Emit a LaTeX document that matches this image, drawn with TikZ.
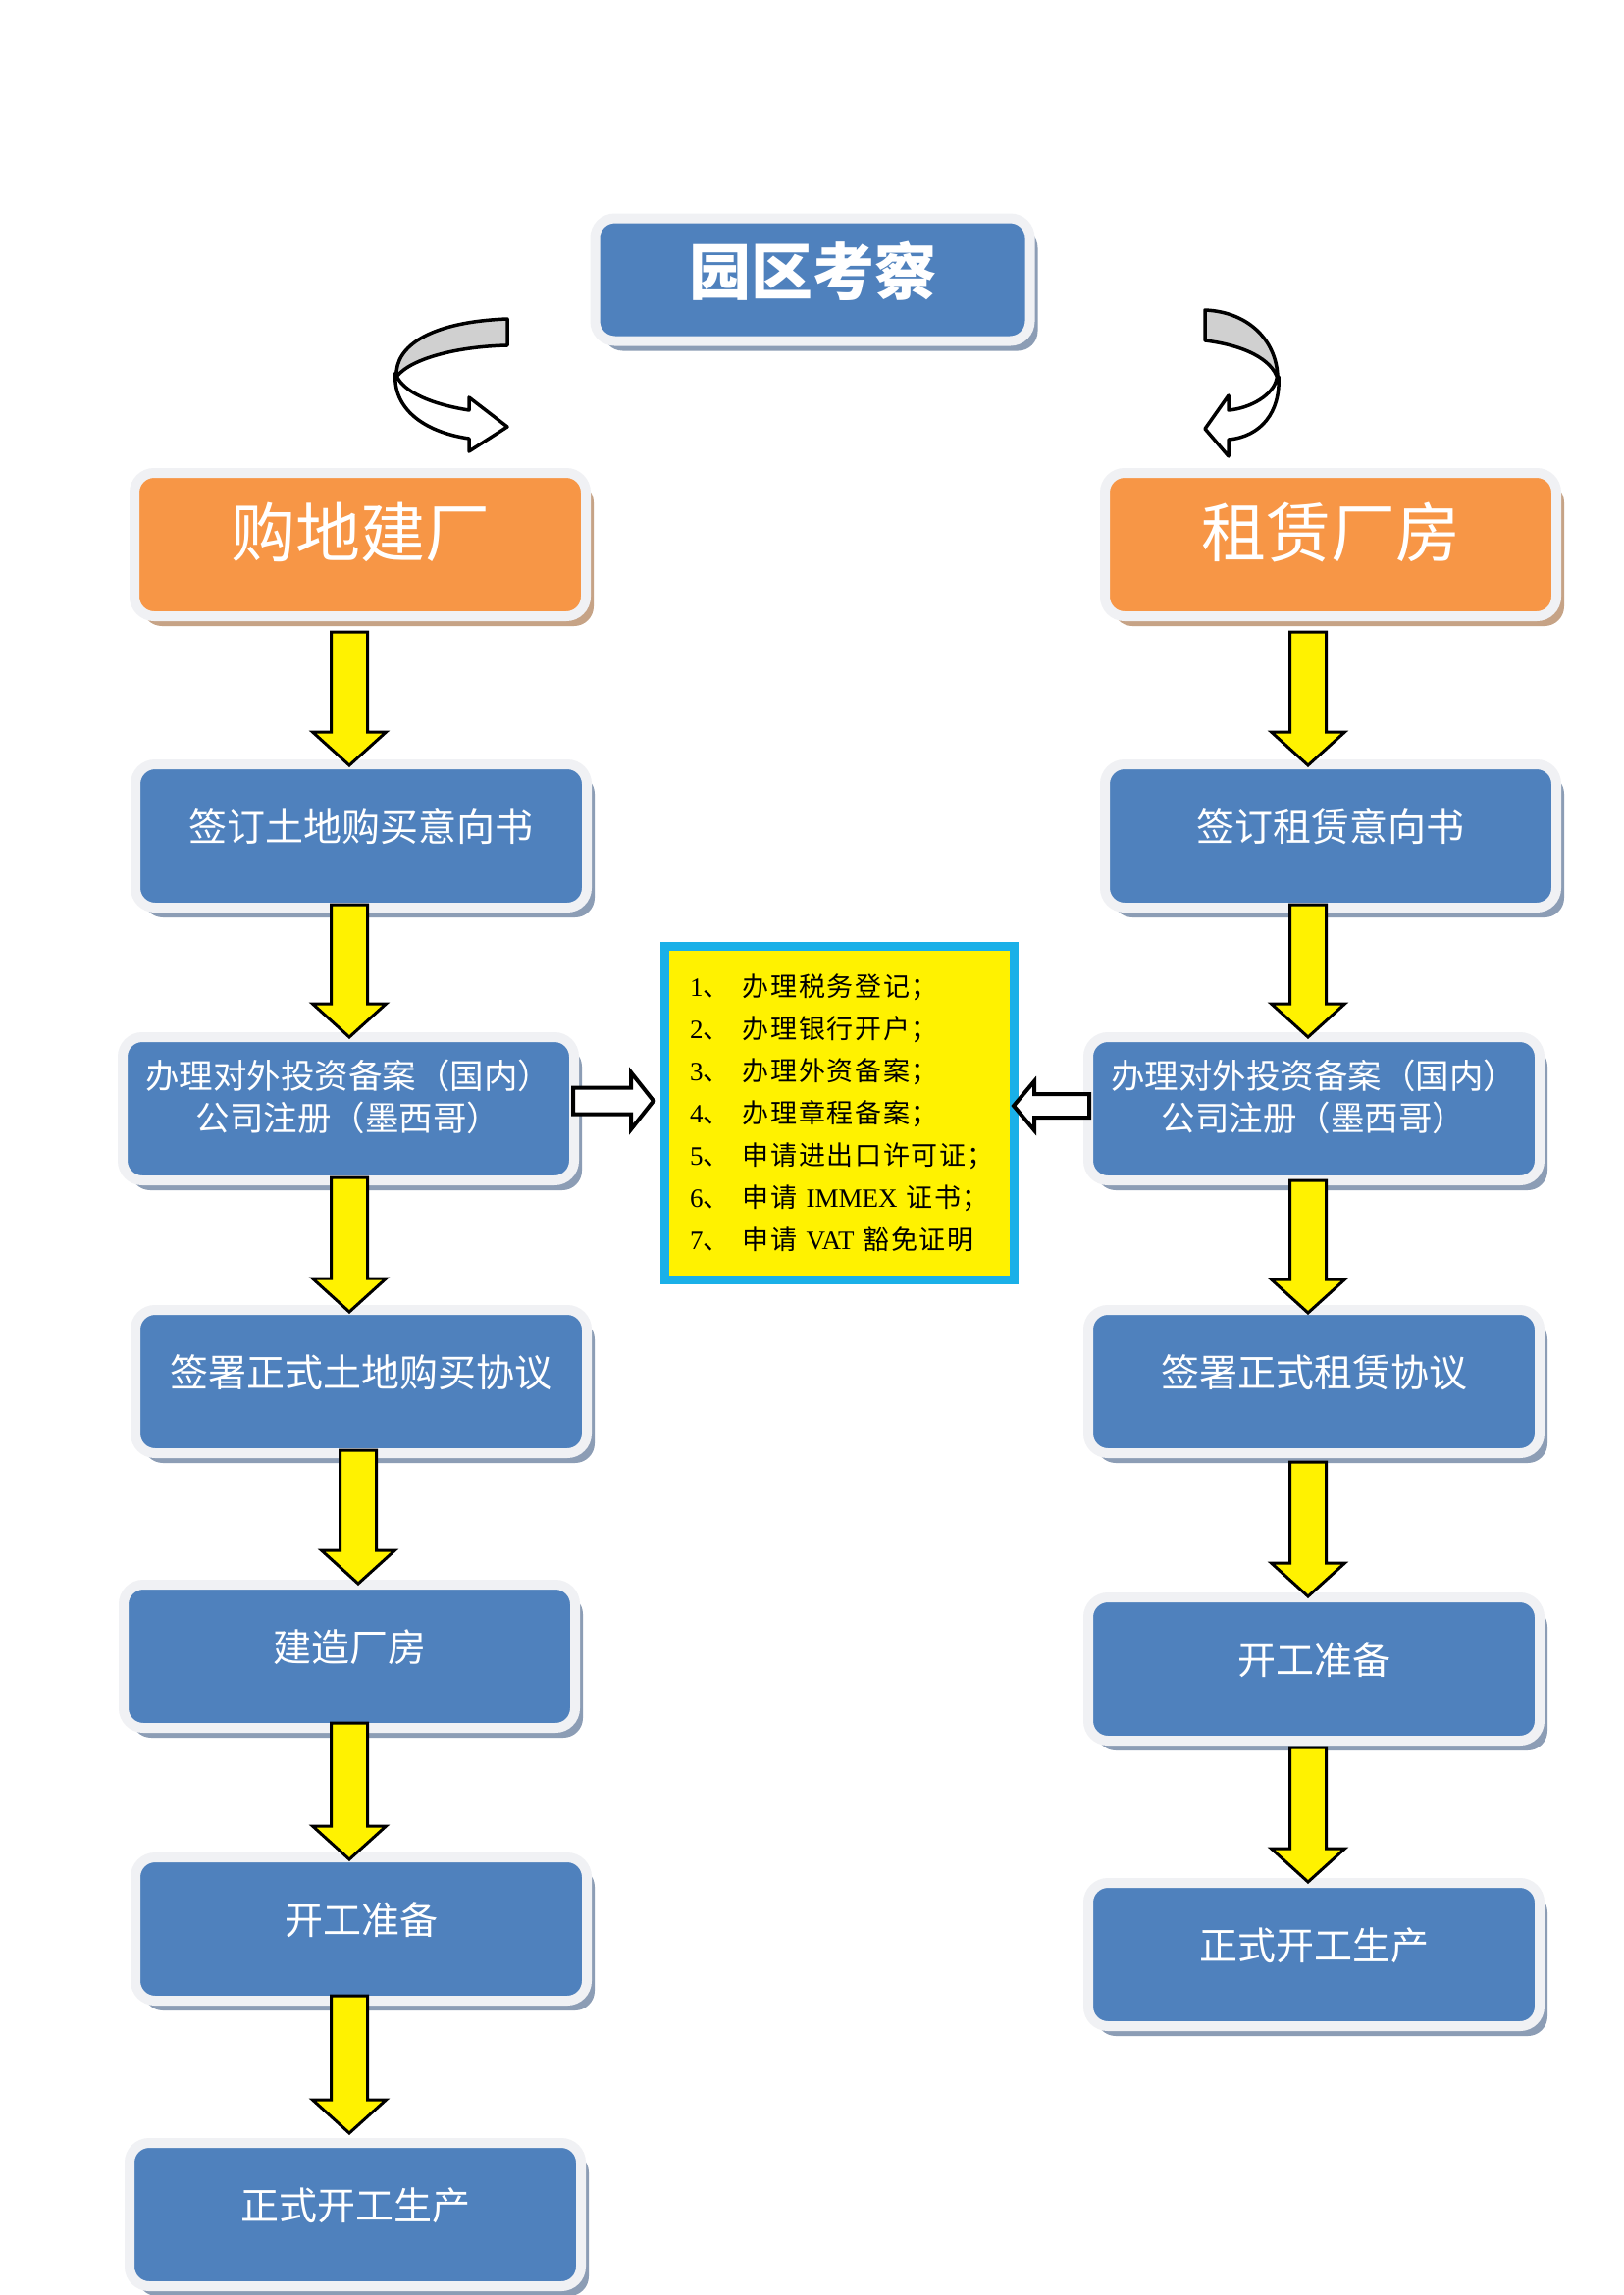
\documentclass[tikz,border=0pt]{standalone}
\usepackage{fontspec}
\setmainfont{Liberation Serif}
\newfontfamily\cjk{Noto Sans CJK SC}
\newfontfamily\cjkls[LetterSpace=6]{Noto Sans CJK SC}
\newfontfamily\lser{Liberation Serif}
\usetikzlibrary{shadows,calc}
\definecolor{boxblue}{HTML}{4F81BD}
\definecolor{boxorange}{HTML}{F79646}
\definecolor{rimcol}{HTML}{F0F1F4}
\definecolor{shblue}{HTML}{8C9DB5}
\definecolor{shorange}{HTML}{C6A386}
\definecolor{cyanrim}{HTML}{1AB0E8}
\definecolor{curvegray}{HTML}{D0D0D0}
\tikzset{
  pbox/.style={rectangle, rounded corners=20pt, draw=rimcol, line width=10pt,
    outer sep=0pt, inner sep=0pt, minimum width=460pt, minimum height=146pt,
    text=white, align=center},
  bluebox/.style={pbox, fill=boxblue,
    drop shadow={opacity=1, fill=shblue, shadow xshift=8pt, shadow yshift=-10pt},
    font=\cjk\fontsize{39}{46}\selectfont, text depth=22pt},
  twobox/.style={bluebox, font=\cjk\fontsize{34.5}{43}\selectfont, text depth=28pt},
  orangebox/.style={pbox, fill=boxorange,
    drop shadow={opacity=1, fill=shorange, shadow xshift=8pt, shadow yshift=-10pt},
    font=\cjk\fontsize{66}{74}\selectfont, text depth=30pt},
  titlebox/.style={pbox, fill=boxblue, minimum width=443pt, minimum height=125pt,
    drop shadow={opacity=1, fill=shblue, shadow xshift=8pt, shadow yshift=-10pt},
    font=\cjk\bfseries\fontsize{63}{70}\selectfont, text depth=24pt},
  notebox/.style={rectangle, draw=cyanrim, fill=yellow, line width=9pt, outer sep=0pt,
    inner sep=0pt, minimum width=356pt, minimum height=340pt, text width=305pt,
    align=left, font=\cjkls\fontsize{27}{43}\selectfont},
  yarrow/.style={draw=black, fill=yellow, line width=3pt, line join=miter},
  harrow/.style={draw=black, fill=white, line width=4pt, line join=miter},
  curvearrow/.style={draw=black, line width=3.5pt, line join=round}
}
\newcommand\yarr[5]{\path[yarrow] let \p1=(#2.south), \p2=(#3.north) in
  ({#1pt-18.5pt},{\y1-(#4pt)}) -- ({#1pt+18.5pt},{\y1-(#4pt)})
  -- ({#1pt+18.5pt},{\y2+34pt-(#5pt)}) -- ({#1pt+37.5pt},{\y2+34pt-(#5pt)})
  -- ({#1pt},{\y2-(#5pt)}) -- ({#1pt-37.5pt},{\y2+34pt-(#5pt)})
  -- ({#1pt-18.5pt},{\y2+34pt-(#5pt)}) -- cycle;}
\newcommand\nm[1]{\makebox[54pt][l]{{\lser\fontsize{27}{43}\selectfont #1}、}}
\begin{document}
\begin{tikzpicture}[x=1pt,y=-1pt]
\useasboundingbox (0,0) rectangle (1654,2339);
\fill[white] (0,0) rectangle (1654,2339);

% title
\node[titlebox] (top) at (828,285) {园区考察};

% orange heads
\node[orangebox] (oL) at (367,555) {购地建厂};
\node[orangebox] (oR) at (1356,555) {租赁厂房};

% left column
\node[bluebox] (b1L) at (368,852) {签订土地购买意向书};
\node[twobox]  (b2L) at (355,1130) {办理对外投资备案（国内）\\公司注册（墨西哥）};
\node[bluebox] (b3L) at (368,1408) {签署正式土地购买协议};
\node[bluebox] (b4L) at (356,1688) {建造厂房};
\node[bluebox] (b5L) at (368,1966) {开工准备};
\node[bluebox] (b6L) at (362,2257) {正式开工生产};

% right column
\node[bluebox] (b1R) at (1356,852) {签订租赁意向书};
\node[twobox]  (b2R) at (1339,1130) {办理对外投资备案（国内）\\公司注册（墨西哥）};
\node[bluebox] (b3R) at (1339,1408) {签署正式租赁协议};
\node[bluebox] (b4R) at (1339,1701) {开工准备};
\node[bluebox] (b5R) at (1339,1992) {正式开工生产};

% note box
\node[notebox] (yb) at (855.5,1134.5) {%
\nm{1}办理税务登记；\\
\nm{2}办理银行开户；\\
\nm{3}办理外资备案；\\
\nm{4}办理章程备案；\\
\nm{5}申请进出口许可证；\\
\nm{6}申请 {\lser IMMEX} 证书；\\
\nm{7}申请 {\lser VAT} 豁免证明};

% yellow down arrows
\yarr{356}{oL}{b1L}{16}{1}
\yarr{356}{b1L}{b2L}{-3}{0}
\yarr{356}{b2L}{b3L}{-3}{2}
\yarr{365}{b3L}{b4L}{-3}{-1}
\yarr{356}{b4L}{b5L}{-5}{2}
\yarr{356}{b5L}{b6L}{-5}{-10}
\yarr{1333}{oR}{b1R}{16}{1}
\yarr{1333}{b1R}{b2R}{-3}{0}
\yarr{1333}{b2R}{b3R}{0}{3}
\yarr{1333}{b3R}{b4R}{9}{-1}
\yarr{1333}{b4R}{b5R}{7}{-1}

% hollow arrows into the note box
\path[harrow] let \p1=(b2L.east), \p2=(yb.west) in
  ({\x1-1pt},{\y1+21.5pt}) -- ({\x2-34.5pt},{\y1+21.5pt}) -- ({\x2-34.5pt},{\y1+37pt})
  -- ({\x2-11.5pt},{\y1+8pt}) -- ({\x2-34.5pt},{\y1-21pt}) -- ({\x2-34.5pt},{\y1-5.5pt})
  -- ({\x1-1pt},{\y1-5.5pt}) -- cycle;
\path[harrow] let \p1=(b2R.west), \p2=(yb.east) in
  ({\x1+1pt},{\y1+15pt}) -- ({\x2+20.5pt},{\y1+15pt}) -- ({\x2+20.5pt},{\y1+28pt})
  -- ({\x2-0.5pt},{\y1+3pt}) -- ({\x2+20.5pt},{\y1-22pt}) -- ({\x2+20.5pt},{\y1-9pt})
  -- ({\x1+1pt},{\y1-9pt}) -- cycle;

% curved arrows (left)
\path[curvearrow, fill=white] (403,380) .. controls (400,415) and (430,440) .. (478,447)
  -- (478,460) -- (517,435) -- (478,405) -- (478,418)
  .. controls (440,412) and (412,400) .. (404,383) -- cycle;
\path[curvearrow, fill=curvegray] (517,325) -- (517,352)
  .. controls (470,353) and (420,364) .. (404,384)
  .. controls (402,352) and (440,328) .. (517,325) -- cycle;
% curved arrows (right)
\path[curvearrow, fill=white] (1303,384) .. controls (1305,420) and (1285,445) .. (1252,448)
  -- (1252,465) -- (1228,437) -- (1252,403) -- (1252,418)
  .. controls (1275,416) and (1298,402) .. (1301,386) -- cycle;
\path[curvearrow, fill=curvegray] (1228,316) -- (1228,347)
  .. controls (1268,352) and (1296,366) .. (1302,386)
  .. controls (1302,350) and (1275,318) .. (1228,316) -- cycle;
\end{tikzpicture}
\end{document}
